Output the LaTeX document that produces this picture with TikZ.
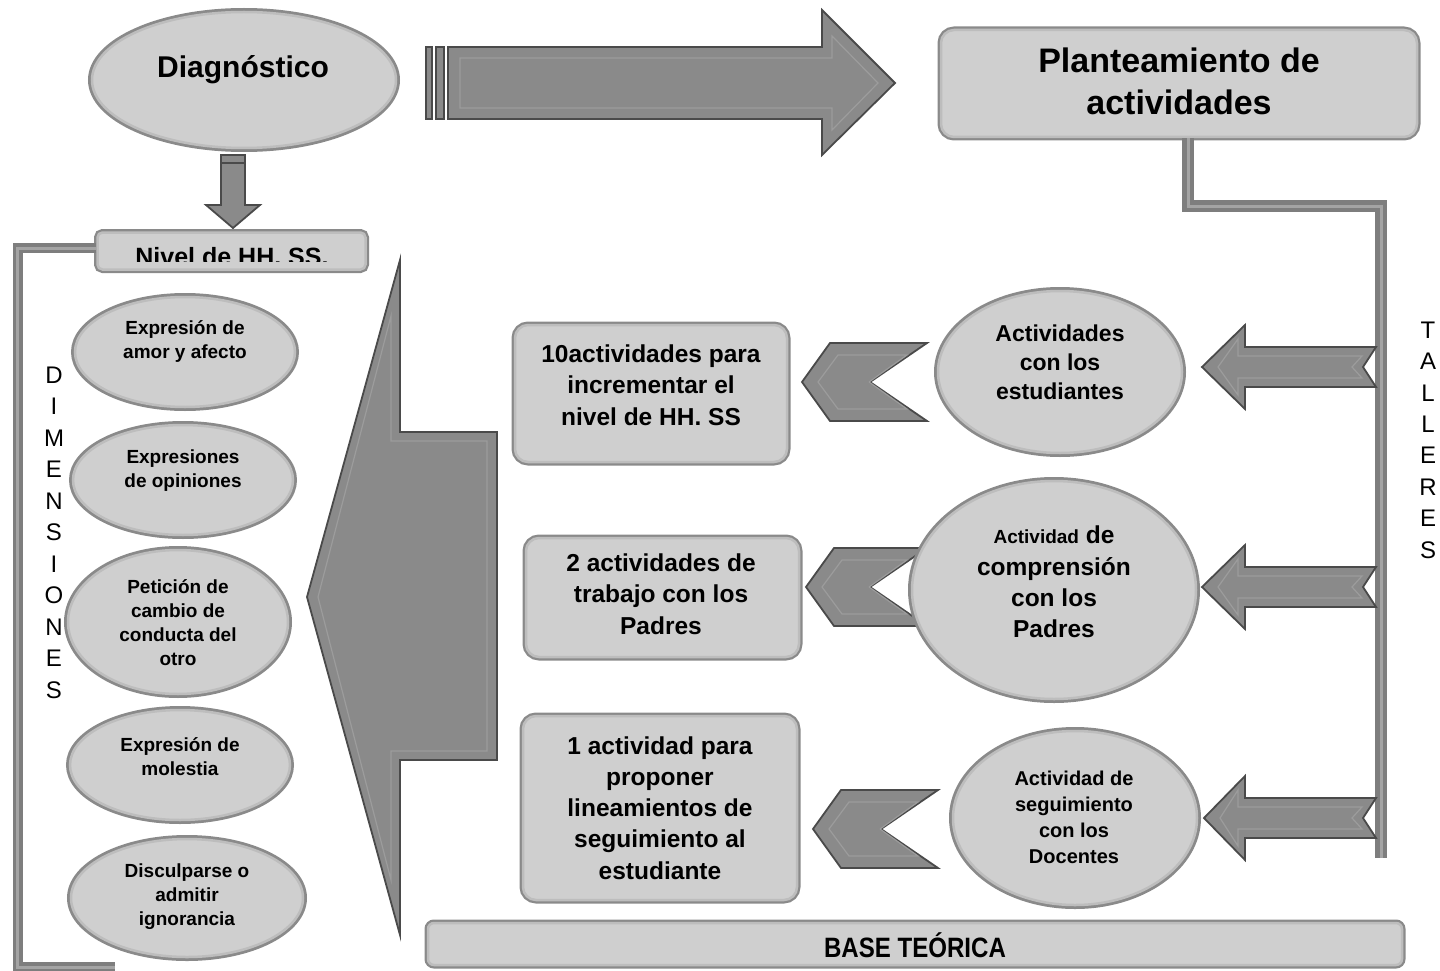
\documentclass[tikz,border=0pt]{standalone}
\usepackage{fontspec}
\setmainfont{Liberation Sans}
\usetikzlibrary{shapes.geometric}
\definecolor{ellfill}{HTML}{CFCFCF}
\definecolor{ringdark}{HTML}{8A8A8A}
\definecolor{ringlight}{HTML}{BDBDBD}
\definecolor{arrfill}{HTML}{8A8A8A}
\definecolor{arredge}{HTML}{4A4A4A}
\definecolor{arrbevel}{HTML}{9C9C9C}
\definecolor{bardark}{HTML}{7E7E7E}
\definecolor{barlight}{HTML}{A4A4A4}
\newcommand{\fsz}[2]{\fontsize{#1}{#2}\selectfont}
\newcommand{\rarrow}[2]{%
  \draw[arr] (1376,{#1-20}) -- (1245,{#1-20}) -- (1245,{#1-42}) -- (#2,#1) -- (1245,{#1+42}) -- (1245,{#1+20}) -- (1376,{#1+20}) -- (1363,#1) -- cycle;
  \draw[bevel] (1362,{#1-11}) -- (1238,{#1-11}) -- (1238,{#1-28}) -- ({#2+16},#1) -- (1238,{#1+28}) -- (1238,{#1+11}) -- (1362,{#1+11}) -- (1352,#1) -- cycle;}
\newcommand{\chevron}[3]{%
  \draw[arr] (#1,#2) -- ({#1+28},{#2-39}) -- (#3,{#2-39}) -- ({#3-57},#2) -- (#3,{#2+39}) -- ({#1+28},{#2+39}) -- cycle;
  \draw[bevel] ({#1+16},#2) -- ({#1+36},{#2-27}) -- ({#3-20},{#2-27}) -- ({#3-58},#2) -- ({#3-20},{#2+27}) -- ({#1+36},{#2+27}) -- cycle;}
\begin{document}
\begin{tikzpicture}[x=1pt,y=-1pt,
  ell/.style={ellipse, inner sep=0pt, fill=ellfill, draw=ringlight, line width=2.5pt,
    preaction={draw=ringdark, line width=8pt}},
  rbox/.style={rectangle, rounded corners=13pt, inner sep=0pt, fill=ellfill, draw=ringlight, line width=2.5pt,
    preaction={draw=ringdark, line width=7pt}},
  txt/.style={align=center, inner sep=0pt, font=\bfseries},
  letter/.style={inner sep=0pt, font=\fsz{24}{24}},
  arr/.style={fill=arrfill, draw=arredge, line width=1.8pt, line join=miter},
  bevel/.style={draw=arrbevel, line width=1.2pt, line join=miter},
  bar/.style={draw=bardark, double=barlight, double distance=3pt, line width=3.5pt},
  stripe/.style={fill=arrfill, draw=arredge, line width=1.5pt}]
\useasboundingbox (0,0) rectangle (1440,971);

% ---- top: Diagnostico and big arrow
\node[ell, minimum width=304pt, minimum height=136pt] (diag) at (244,80) {};
\node[txt, font=\bfseries\fsz{30}{32}] (diagT) at (243,70) {Diagnóstico};

\draw[stripe] (426,47) rectangle (432,119);
\draw[stripe] (436,47) rectangle (444,119);
\draw[arr] (448,47) -- (822,47) -- (822,10) -- (895,83) -- (822,155) -- (822,119) -- (448,119) -- cycle;
\draw[bevel] (460,58) -- (832,58) -- (832,36) -- (878,83) -- (832,130) -- (832,108) -- (460,108) -- cycle;

\node[rbox, minimum width=476pt, minimum height=107pt] (plan) at (1179,83.5) {};
\node[txt, font=\bfseries\fsz{34}{42}] (planT) at (1179,81) {Planteamiento de\\actividades};

% ---- down arrow to Nivel
\draw[stripe] (221,155) rectangle (245,163);
\draw[arr] (221,163) -- (245,163) -- (245,205) -- (260,205) -- (233,228) -- (206,205) -- (221,205) -- cycle;

\node[rbox, rounded corners=5pt, minimum width=268pt, minimum height=37pt] (nivel) at (231.5,251) {};
\begin{scope}
  \clip (95,228) rectangle (368,261);
  \node[txt, font=\bfseries\fsz{25}{25}, anchor=base] (nivelT) at (232,265) {Nivel de HH. SS.};
\end{scope}

% ---- left bracket
\coordinate (lbA) at (17.5,248);
\coordinate (lbB) at (17.5,967);
\coordinate (lbC) at (115,967);
\draw[bar] (nivel.west |- lbA) -- (lbA) -- (lbB) -- (lbC);

\foreach \l [count=\i from 0] in {D,I,M,E,N,S,I,O,N,E,S}
  \node[letter] (dim\i) at (54,{375+\i*31.5}) {\l};

% ---- dimension ellipses
\node[ell, minimum width=220pt, minimum height=110pt] (e1) at (185,352) {};
\node[txt, font=\bfseries\fsz{19}{24}] (e1T) at (185,342) {Expresión de\\amor y afecto};
\node[ell, minimum width=220pt, minimum height=110pt] (e2) at (183,480) {};
\node[txt, font=\bfseries\fsz{19}{24}] (e2T) at (183,471) {Expresiones\\de opiniones};
\node[ell, minimum width=220pt, minimum height=144pt] (e3) at (178,622) {};
\node[txt, font=\bfseries\fsz{19}{24}] (e3T) at (178,623) {Petición de\\cambio de\\conducta del\\otro};
\node[ell, minimum width=220pt, minimum height=110pt] (e4) at (180,765) {};
\node[txt, font=\bfseries\fsz{19}{24}] (e4T) at (180,757) {Expresión de\\molestia};
\node[ell, minimum width=232pt, minimum height=118pt] (e5) at (187,898) {};
\node[txt, font=\bfseries\fsz{19}{24}] (e5T) at (187,897) {Disculparse o\\admitir\\ignorancia};

% ---- big left arrow
\draw[arr] (497,432) -- (400,432) -- (400,260) -- (307,597) -- (400,935) -- (400,760) -- (497,760) -- cycle;
\draw[bevel] (487,441) -- (391,441) -- (391,316) -- (318,597) -- (391,880) -- (391,751) -- (487,751) -- cycle;

% ---- middle boxes
\node[rbox, minimum width=272pt, minimum height=137pt] (m1) at (651,393.5) {};
\node[txt, font=\bfseries\fsz{24.5}{31.5}] (m1T) at (651,385) {10actividades para\\incrementar el\\nivel de HH. SS};
\node[rbox, minimum width=273pt, minimum height=119pt] (m2) at (662.5,597.5) {};
\node[txt, font=\bfseries\fsz{24.5}{31.5}] (m2T) at (661,594) {2 actividades de\\trabajo con los\\Padres};
\node[rbox, minimum width=274pt, minimum height=184pt] (m3) at (660,808) {};
\node[txt, font=\bfseries\fsz{24.5}{31.2}] (m3T) at (660,808) {1 actividad para\\proponer\\lineamientos de\\seguimiento al\\estudiante};

% ---- chevrons
\chevron{802}{382}{927}
\chevron{806}{587}{927}
\chevron{813}{829}{938}

% ---- right ellipses
\node[ell, minimum width=244pt, minimum height=162pt] (r1) at (1060,372) {};
\node[txt, font=\bfseries\fsz{23}{29}] (r1T) at (1060,362) {Actividades\\con los\\estudiantes};
\node[ell, minimum width=284pt, minimum height=218pt] (r2) at (1054,590) {};
\node[txt, font=\bfseries\fsz{24.5}{31.3}] (r2T) at (1054,582) {{\fsz{19}{31.3}Actividad} de\\comprensión\\con los\\Padres};
\node[ell, minimum width=244pt, minimum height=174pt] (r3) at (1075,818) {};
\node[txt, font=\bfseries\fsz{20}{26}] (r3T) at (1074,817) {Actividad de\\seguimiento\\con los\\Docentes};

% ---- right bracket and arrows
\coordinate (pj) at ([xshift=9pt]plan.south);
\coordinate (rbA) at (1381,206);
\coordinate (rbB) at (1381,858);
\draw[bar, line width=4.5pt] (pj) |- (rbA) -- (rbB);

\rarrow{367}{1202}
\rarrow{587}{1202}
\rarrow{818}{1204}

\foreach \l [count=\i from 0] in {T,A,L,L,E,R,E,S}
  \node[letter] (tal\i) at (1428,{330+\i*31.4}) {\l};

% ---- base teorica
\node[rbox, rounded corners=6pt, minimum width=974pt, minimum height=42pt] (base) at (915,944) {};
\node[txt] (baseT) at (915,945) {\scalebox{0.86}[1]{\bfseries\fsz{28}{28}BASE TEÓRICA}};
\end{tikzpicture}
\end{document}
